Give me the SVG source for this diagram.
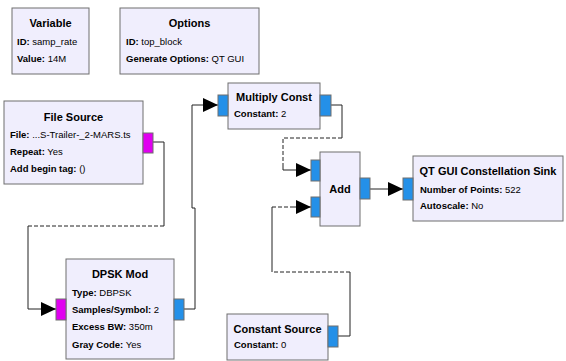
<svg xmlns="http://www.w3.org/2000/svg" width="566" height="361" viewBox="0 0 566 361">
  <style>
    .blk { fill: #F0EEFD; stroke: #6E6E6E; stroke-width: 1; }
    .pin { fill: #2490E8; stroke: #6E6E6E; stroke-width: 1; }
    .pmsg { fill: #E000F0; stroke: #6E6E6E; stroke-width: 1; }
    .ttl { font-family: "Liberation Sans", Arial, sans-serif; font-size: 11px; font-weight: bold; fill: #000; text-anchor: middle; }
    .prm { font-family: "Liberation Sans", Arial, sans-serif; font-size: 9.5px; fill: #000; }
    .prm tspan.k { font-weight: bold; }
    .wire { fill: none; stroke: #222; stroke-width: 1; }
    .dash { stroke-dasharray: 4 2; }
  </style>
  <defs>
    <marker id="arrow" markerUnits="userSpaceOnUse" viewBox="0 0 15 14" refX="15" refY="7" markerWidth="15" markerHeight="14" orient="auto">
      <path d="M0,0 L15,7 L0,14 Z" fill="#000"/>
    </marker>
  </defs>

  <rect width="566" height="361" fill="#FFFFFF"/>

  <g id="connections">
    <!-- File Source -> DPSK Mod -->
    <path class="wire" d="M153,142 H164 V226"/>
    <path class="wire dash" d="M164,226 H28"/>
    <path class="wire" d="M28,226 V309 H56" marker-end="url(#arrow)"/>
    <!-- DPSK Mod -> Multiply Const -->
    <path class="wire" d="M184,309 H195 V208 H192 V105 H218" marker-end="url(#arrow)"/>
    <!-- Multiply Const -> Add (in0) -->
    <path class="wire" d="M331,105 H342 V138"/>
    <path class="wire dash" d="M342,138 H283 V166"/>
    <path class="wire" d="M283,166 V170 H311" marker-end="url(#arrow)"/>
    <!-- Constant Source -> Add (in1) -->
    <path class="wire" d="M338,336 H350 V272"/>
    <path class="wire dash" d="M350,272 H272"/>
    <path class="wire" d="M272,272 V207"/>
    <path class="wire dash" d="M272,207 H292"/>
    <path class="wire" d="M292,207 H311" marker-end="url(#arrow)"/>
    <!-- Add -> QT GUI Constellation Sink -->
    <path class="wire" d="M370,189 H403" marker-end="url(#arrow)"/>
  </g>

  <g id="variable">
    <rect class="blk" x="12" y="8" width="77" height="66"/>
    <text class="ttl" x="50.5" y="27">Variable</text>
    <text class="prm" x="17" y="45"><tspan class="k">ID:</tspan> samp_rate</text>
    <text class="prm" x="17" y="62"><tspan class="k">Value:</tspan> 14M</text>
  </g>

  <g id="options">
    <rect class="blk" x="120" y="8" width="139" height="66"/>
    <text class="ttl" x="189.5" y="27">Options</text>
    <text class="prm" x="126" y="45"><tspan class="k">ID:</tspan> top_block</text>
    <text class="prm" x="126" y="62"><tspan class="k">Generate Options:</tspan> QT GUI</text>
  </g>

  <g id="file_source">
    <rect class="blk" x="4" y="101" width="139" height="83"/>
    <rect class="pmsg" x="143" y="133" width="10" height="20"/>
    <text class="ttl" x="73.5" y="121">File Source</text>
    <text class="prm" x="10" y="138"><tspan class="k">File:</tspan> ...S-Trailer-_2-MARS.ts</text>
    <text class="prm" x="10" y="155"><tspan class="k">Repeat:</tspan> Yes</text>
    <text class="prm" x="10" y="172"><tspan class="k">Add begin tag:</tspan> ()</text>
  </g>

  <g id="dpsk_mod">
    <rect class="blk" x="66" y="259" width="108" height="100"/>
    <rect class="pmsg" x="56" y="299" width="10" height="21"/>
    <rect class="pin" x="174" y="299" width="10" height="21"/>
    <text class="ttl" x="120" y="278">DPSK Mod</text>
    <text class="prm" x="72" y="296"><tspan class="k">Type:</tspan> DBPSK</text>
    <text class="prm" x="72" y="313"><tspan class="k">Samples/Symbol:</tspan> 2</text>
    <text class="prm" x="72" y="330"><tspan class="k">Excess BW:</tspan> 350m</text>
    <text class="prm" x="72" y="348"><tspan class="k">Gray Code:</tspan> Yes</text>
  </g>

  <g id="multiply_const">
    <rect class="blk" x="228" y="83" width="92" height="46"/>
    <rect class="pin" x="218" y="95" width="10" height="21"/>
    <rect class="pin" x="320" y="95" width="11" height="21"/>
    <text class="ttl" x="274" y="101">Multiply Const</text>
    <text class="prm" x="234" y="117"><tspan class="k">Constant:</tspan> 2</text>
  </g>

  <g id="add">
    <rect class="blk" x="320" y="152" width="40" height="74"/>
    <rect class="pin" x="311" y="160" width="9" height="21"/>
    <rect class="pin" x="311" y="197" width="9" height="20"/>
    <rect class="pin" x="360" y="178" width="10" height="21"/>
    <text class="ttl" x="340" y="193">Add</text>
  </g>

  <g id="qtgui_const_sink">
    <rect class="blk" x="413" y="156" width="150" height="65"/>
    <rect class="pin" x="403" y="178" width="10" height="22"/>
    <text class="ttl" x="488" y="175">QT GUI Constellation Sink</text>
    <text class="prm" x="420" y="193"><tspan class="k">Number of Points:</tspan> 522</text>
    <text class="prm" x="420" y="209"><tspan class="k">Autoscale:</tspan> No</text>
  </g>

  <g id="constant_source">
    <rect class="blk" x="227" y="314" width="101" height="46"/>
    <rect class="pin" x="328" y="326" width="10" height="21"/>
    <text class="ttl" x="277.5" y="333">Constant Source</text>
    <text class="prm" x="234" y="348"><tspan class="k">Constant:</tspan> 0</text>
  </g>
</svg>
